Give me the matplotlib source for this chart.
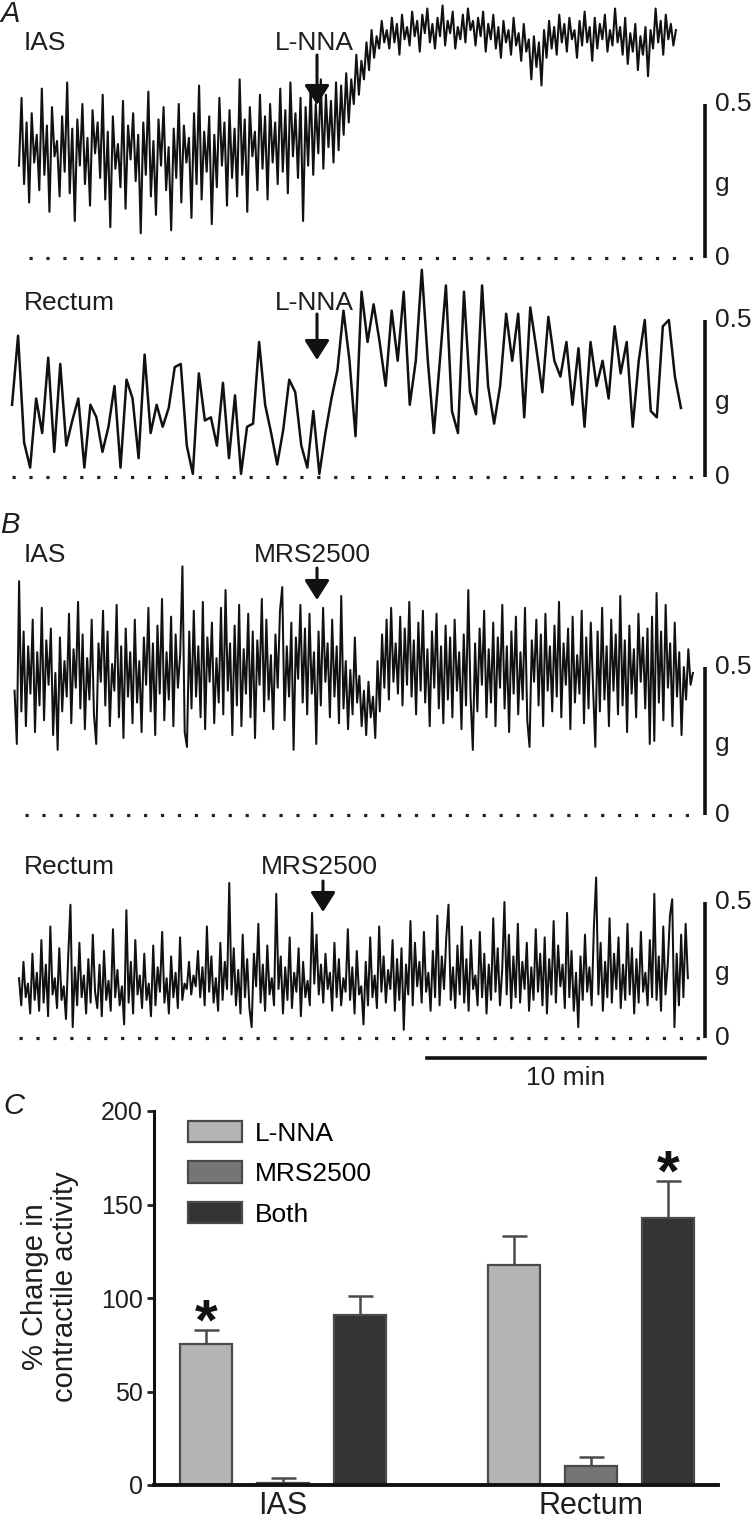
import numpy as np
import matplotlib
matplotlib.use("Agg")
import matplotlib.pyplot as plt

plt.rcParams["font.family"] = ["Liberation Sans", "DejaVu Sans"]

# ---------------------------------------------------------------------------
# Data
# ---------------------------------------------------------------------------
# Tension traces (g), evenly sampled between start/end (min)
ias_lnna = [
    # before L-NNA
    0.30, 0.52, 0.24, 0.44, 0.18, 0.47, 0.31, 0.40, 0.22, 0.55,
    0.27, 0.43, 0.15, 0.49, 0.33, 0.38, 0.20, 0.46, 0.28, 0.57,
    0.21, 0.42, 0.12, 0.45, 0.30, 0.50, 0.24, 0.39, 0.17, 0.48,
    0.34, 0.44, 0.26, 0.53, 0.19, 0.41, 0.10, 0.46, 0.29, 0.37,
    0.23, 0.51, 0.16, 0.43, 0.32, 0.47, 0.25, 0.40, 0.08, 0.44,
    0.27, 0.54, 0.20, 0.38, 0.14, 0.45, 0.30, 0.49, 0.22, 0.36,
    0.09, 0.42, 0.26, 0.50, 0.18, 0.43, 0.31, 0.39, 0.13, 0.47,
    0.24, 0.56, 0.19, 0.41, 0.28, 0.46, 0.11, 0.40, 0.23, 0.52,
    0.30, 0.44, 0.17, 0.48, 0.26, 0.42, 0.20, 0.58, 0.27, 0.45,
    0.15, 0.49, 0.33, 0.41, 0.22, 0.53, 0.29, 0.46, 0.19, 0.50,
    0.31, 0.44, 0.24, 0.55, 0.28, 0.48, 0.21, 0.57, 0.33, 0.47,
    0.26, 0.52, 0.12, 0.49, 0.30, 0.56, 0.27, 0.50, 0.34, 0.58,
    0.29, 0.53, 0.36, 0.51, 0.31, 0.57,
    # rise
    0.35, 0.56, 0.40, 0.60, 0.44, 0.58, 0.50, 0.66, 0.53, 0.64,
    0.58, 0.70, 0.61, 0.74, 0.65, 0.72, 0.68, 0.77, 0.70,
    # plateau
    0.74, 0.68, 0.78, 0.70, 0.76, 0.66, 0.79, 0.71, 0.75, 0.69,
    0.80, 0.72, 0.77, 0.67, 0.79, 0.73, 0.81, 0.70, 0.76, 0.68,
    0.78, 0.72, 0.82, 0.69, 0.77, 0.73, 0.80, 0.68, 0.75, 0.71,
    0.79, 0.70, 0.81, 0.74, 0.77, 0.69, 0.78, 0.72, 0.80, 0.67,
    0.76, 0.71, 0.79, 0.68, 0.75, 0.65, 0.77, 0.70, 0.74, 0.66,
    0.78, 0.69, 0.73, 0.64, 0.76, 0.67, 0.71, 0.58, 0.72, 0.62,
    0.70, 0.56, 0.74, 0.65, 0.77, 0.68, 0.75, 0.66, 0.79, 0.70,
    0.76, 0.67, 0.78, 0.71, 0.74, 0.65, 0.77, 0.69, 0.80, 0.70,
    0.75, 0.64, 0.78, 0.68, 0.76, 0.71, 0.79, 0.67, 0.74, 0.69,
    0.81, 0.70, 0.75, 0.66, 0.78, 0.63, 0.73, 0.67, 0.76, 0.61,
    0.72, 0.66, 0.75, 0.59, 0.74, 0.68, 0.81, 0.70, 0.77, 0.66,
    0.79, 0.71, 0.76, 0.69, 0.74,
]
rectum_lnna = [
    0.23, 0.45, 0.11, 0.03, 0.25, 0.14, 0.38, 0.08, 0.36, 0.10,
    0.18, 0.25, 0.03, 0.23, 0.19, 0.08, 0.16, 0.29, 0.03, 0.31,
    0.25, 0.06, 0.39, 0.14, 0.23, 0.16, 0.22, 0.35, 0.36, 0.10,
    0.01, 0.33, 0.18, 0.19, 0.10, 0.30, 0.06, 0.26, 0.01, 0.16,
    0.17, 0.43, 0.23, 0.14, 0.04, 0.15, 0.31, 0.27, 0.10, 0.03,
    0.21, 0.01, 0.14, 0.25, 0.34,
    0.53, 0.37, 0.13, 0.59, 0.43, 0.55, 0.43, 0.29, 0.53, 0.37,
    0.59, 0.23, 0.37, 0.66, 0.37, 0.14, 0.37, 0.61, 0.21, 0.14,
    0.59, 0.27, 0.20, 0.61, 0.29, 0.17, 0.29, 0.52, 0.37, 0.52,
    0.19, 0.54, 0.41, 0.27, 0.51, 0.37, 0.32, 0.43, 0.23, 0.41,
    0.16, 0.43, 0.29, 0.37, 0.25, 0.48, 0.33, 0.43, 0.16, 0.37,
    0.50, 0.21, 0.19, 0.48, 0.50, 0.32, 0.22,
]
ias_mrs = [
    0.42, 0.24, 0.79, 0.35, 0.62, 0.30, 0.57, 0.41, 0.66, 0.28,
    0.55, 0.37, 0.70, 0.32, 0.59, 0.44, 0.63, 0.27, 0.48, 0.22,
    0.60, 0.35, 0.52, 0.40, 0.68, 0.31, 0.56, 0.43, 0.72, 0.36,
    0.61, 0.29, 0.53, 0.39, 0.66, 0.34, 0.24, 0.58, 0.45, 0.69,
    0.37, 0.62, 0.30, 0.51, 0.42, 0.71, 0.33, 0.57, 0.26, 0.63,
    0.40, 0.55, 0.31, 0.66, 0.38, 0.52, 0.28, 0.60, 0.44, 0.70,
    0.35, 0.58, 0.27, 0.64, 0.41, 0.73, 0.32, 0.55, 0.39, 0.67,
    0.30, 0.61, 0.43, 0.54, 0.84, 0.28, 0.23, 0.62, 0.36, 0.69,
    0.40, 0.57, 0.33, 0.72, 0.29, 0.60, 0.45, 0.65, 0.31, 0.53,
    0.38, 0.70, 0.34, 0.76, 0.42, 0.58, 0.27, 0.64, 0.37, 0.71,
    0.30, 0.56, 0.41, 0.68, 0.33, 0.62, 0.26, 0.59, 0.44, 0.73,
    0.35, 0.66, 0.39, 0.54, 0.29, 0.61, 0.43, 0.69, 0.77, 0.32,
    0.57, 0.40, 0.65, 0.22, 0.60, 0.46, 0.71, 0.38, 0.63, 0.34,
    0.68, 0.41, 0.55, 0.24, 0.62, 0.37, 0.70, 0.45, 0.58, 0.33,
    0.66, 0.40, 0.57, 0.31, 0.74, 0.36, 0.52, 0.29, 0.49, 0.34,
    0.60, 0.38, 0.47, 0.30, 0.42, 0.27, 0.45, 0.33, 0.40, 0.26,
    0.52, 0.35, 0.61, 0.43, 0.66, 0.39, 0.70, 0.45, 0.58, 0.41,
    0.67, 0.37, 0.63, 0.44, 0.72, 0.40, 0.59, 0.34, 0.65, 0.42,
    0.69, 0.38, 0.56, 0.30, 0.62, 0.43, 0.68, 0.36, 0.57, 0.31,
    0.64, 0.39, 0.60, 0.33, 0.66, 0.42, 0.55, 0.29, 0.61, 0.37,
    0.76, 0.40, 0.22, 0.58, 0.35, 0.63, 0.44, 0.69, 0.33, 0.56,
    0.38, 0.65, 0.30, 0.60, 0.43, 0.71, 0.36, 0.57, 0.28, 0.62,
    0.41, 0.67, 0.34, 0.55, 0.39, 0.70, 0.32, 0.23, 0.59, 0.45,
    0.66, 0.37, 0.61, 0.30, 0.68, 0.42, 0.57, 0.35, 0.64, 0.40,
    0.72, 0.33, 0.58, 0.44, 0.63, 0.29, 0.67, 0.38, 0.54, 0.41,
    0.69, 0.31, 0.60, 0.36, 0.65, 0.43, 0.23, 0.62, 0.35, 0.70,
    0.39, 0.57, 0.30, 0.66, 0.42, 0.61, 0.34, 0.74, 0.37, 0.59,
    0.28, 0.64, 0.41, 0.56, 0.33, 0.68, 0.45, 0.60, 0.36, 0.63,
    0.24, 0.67, 0.25, 0.75, 0.38, 0.62, 0.32, 0.71, 0.43, 0.58,
    0.30, 0.65, 0.40, 0.55, 0.27, 0.50, 0.39, 0.56, 0.44, 0.48,
]
rectum_mrs = [
    0.22, 0.12, 0.28, 0.15, 0.20, 0.09, 0.31, 0.14, 0.24, 0.10,
    0.36, 0.13, 0.27, 0.08, 0.41, 0.16, 0.22, 0.11, 0.33, 0.14,
    0.19, 0.07, 0.30, 0.49, 0.04, 0.26, 0.12, 0.35, 0.15, 0.23,
    0.09, 0.29, 0.13, 0.38, 0.17, 0.11, 0.27, 0.08, 0.32, 0.14,
    0.21, 0.10, 0.40, 0.15, 0.25, 0.12, 0.19, 0.05, 0.47, 0.13,
    0.28, 0.09, 0.36, 0.16, 0.23, 0.11, 0.31, 0.14, 0.20, 0.08,
    0.34, 0.12, 0.26, 0.17, 0.39, 0.13, 0.22, 0.09, 0.30, 0.15,
    0.24, 0.11, 0.37, 0.14, 0.20, 0.18, 0.28, 0.16, 0.23, 0.19,
    0.32, 0.15, 0.26, 0.12, 0.41, 0.17, 0.30, 0.13, 0.22, 0.10,
    0.35, 0.14, 0.28, 0.18, 0.57, 0.16, 0.33, 0.12, 0.25, 0.09,
    0.38, 0.15, 0.29, 0.11, 0.04, 0.31, 0.19, 0.42, 0.13, 0.27,
    0.10, 0.34, 0.16, 0.22, 0.12, 0.53, 0.18, 0.30, 0.09, 0.26,
    0.14, 0.37, 0.11, 0.24, 0.17, 0.33, 0.08, 0.28, 0.15, 0.21,
    0.12, 0.46, 0.20, 0.38, 0.16, 0.27, 0.13, 0.31, 0.18, 0.24,
    0.10, 0.35, 0.15, 0.29, 0.12, 0.22, 0.17, 0.40, 0.14, 0.26,
    0.09, 0.32, 0.16, 0.19, 0.05, 0.28, 0.12, 0.37, 0.15, 0.23,
    0.11, 0.41, 0.17, 0.30, 0.13, 0.25, 0.18, 0.36, 0.10, 0.29,
    0.14, 0.33, 0.03, 0.27, 0.16, 0.43, 0.12, 0.35, 0.19, 0.28,
    0.13, 0.39, 0.17, 0.24, 0.10, 0.32, 0.15, 0.45, 0.12, 0.30,
    0.18, 0.37, 0.49, 0.14, 0.26, 0.11, 0.34, 0.16, 0.41, 0.13,
    0.29, 0.10, 0.36, 0.18, 0.23, 0.12, 0.39, 0.15, 0.31, 0.09,
    0.27, 0.14, 0.44, 0.17, 0.33, 0.12, 0.25, 0.50, 0.16, 0.38,
    0.11, 0.30, 0.15, 0.42, 0.13, 0.28, 0.18, 0.35, 0.10, 0.26,
    0.14, 0.40, 0.17, 0.31, 0.12, 0.37, 0.09, 0.29, 0.16, 0.43,
    0.13, 0.34, 0.19, 0.27, 0.11, 0.46, 0.15, 0.32, 0.10, 0.24,
    0.04, 0.30, 0.14, 0.38, 0.17, 0.26, 0.12, 0.41, 0.59, 0.16,
    0.35, 0.10, 0.28, 0.15, 0.44, 0.13, 0.31, 0.18, 0.37, 0.11,
    0.27, 0.14, 0.42, 0.16, 0.33, 0.09, 0.29, 0.13, 0.39, 0.17,
    0.24, 0.12, 0.36, 0.15, 0.53, 0.14, 0.30, 0.10, 0.41, 0.16,
    0.27, 0.45, 0.51, 0.04, 0.31, 0.12, 0.38, 0.15, 0.42, 0.22,
]
# recording windows (min from left edge of traces)
ias_lnna_span = (0.0, 23.63)
rectum_lnna_span = (-0.25, 23.81)
ias_mrs_span = (-0.16, 24.24)
rectum_mrs_span = (0.0, 24.06)

# Panel C: % change in contractile activity (mean, SEM)
treatments = ["L-NNA", "MRS2500", "Both"]
regions = ["IAS", "Rectum"]
ias_mean = [75.2, 1.2, 90.7]
ias_sem = [7.5, 2.3, 10.6]
rectum_mean = [117.9, 10.1, 142.8]
rectum_sem = [15.1, 5.0, 19.5]
ias_signif = [True, False, False]
rectum_signif = [False, False, True]

# ---------------------------------------------------------------------------
# Layout
# ---------------------------------------------------------------------------
W, H = 754, 1522
fig = plt.figure(figsize=(W / 100, H / 100), dpi=100)

PX_PER_MIN = 27.8
T0_PX = 19
TRACE_COLOR = "#111111"
BAR_X = (705 - T0_PX) / PX_PER_MIN
LABEL_X = (715 - T0_PX) / PX_PER_MIN
FS = 19
TXT = "#1e1e1e"


def fx(x):
    return x / W


def fy(y):
    return 1 - y / H


def trace_panel(top, bottom, zero, ppg, vals, span, base_start, lw):
    ax = fig.add_axes([0, 1 - bottom / H, 1, (bottom - top) / H])
    ax.set_xlim(-T0_PX / PX_PER_MIN, (W - T0_PX) / PX_PER_MIN)
    ax.set_ylim((zero - bottom) / ppg, (zero - top) / ppg)
    ax.axis("off")
    t = np.linspace(span[0], span[1], len(vals))
    ax.plot(t, vals, color=TRACE_COLOR, lw=lw)
    # zero baseline (dotted) and 0.5 g scale bar
    ax.hlines(0, base_start, 24.5, colors="#222222", lw=2.3,
              linestyles=[(0, (1, 4.3))])
    ax.plot([BAR_X, BAR_X], [0, 0.5], color="#111111", lw=2.6,
            solid_capstyle="butt", clip_on=False)
    ax.text(LABEL_X, 0.5, "0.5", fontsize=FS, va="center", ha="left", color=TXT)
    ax.text(LABEL_X, 0.24, "g", fontsize=FS, va="center", ha="left", color=TXT)
    ax.text(LABEL_X, 0.0, "0", fontsize=FS, va="center", ha="left", color=TXT)
    return ax


def label(x, y, s, **kw):
    fig.text(fx(x), fy(y), s, fontsize=kw.pop("fontsize", FS), va="center",
             color=TXT, **kw)


def arrow(x, y_top, y_tip):
    fig.add_artist(matplotlib.patches.FancyArrowPatch(
        (fx(x), fy(y_top)), (fx(x), fy(y_tip)), transform=fig.transFigure,
        arrowstyle="-|>,head_length=0.6,head_width=0.38", mutation_scale=20,
        lw=2.2, color="#111111", shrinkA=0, shrinkB=0))


# ---------------------------------------------------------------------------
# Panel A
# ---------------------------------------------------------------------------
trace_panel(0, 268, 258, 308, ias_lnna, ias_lnna_span, 0.36, 1.5)
trace_panel(268, 495, 477, 314, rectum_lnna, rectum_lnna_span, -0.25, 1.8)
label(0, 14, "A", fontsize=21, style="italic", ha="left")
label(24, 43, "IAS", ha="left")
label(314, 43, "L-NNA", ha="center")
arrow(317, 55, 105)
label(24, 303, "Rectum", ha="left")
label(314, 303, "L-NNA", ha="center")
arrow(317, 314, 360)

# ---------------------------------------------------------------------------
# Panel B
# ---------------------------------------------------------------------------
trace_panel(500, 830, 815, 296, ias_mrs, ias_mrs_span, 0.2, 1.45)
trace_panel(830, 1048, 1038, 272, rectum_mrs, rectum_mrs_span, 0.0, 1.45)
label(0, 525, "B", fontsize=21, style="italic", ha="left")
label(24, 555, "IAS", ha="left")
label(312, 555, "MRS2500", ha="center")
arrow(317, 568, 600)
label(24, 867, "Rectum", ha="left")
label(319, 867, "MRS2500", ha="center")
arrow(323, 881, 912)

# 10 min time bar
fig.add_artist(plt.Line2D([fx(427), fx(705)], [fy(1058), fy(1058)],
                          transform=fig.transFigure, color="#111111", lw=2.6))
label(566, 1078, "10 min", ha="center")

# ---------------------------------------------------------------------------
# Panel C
# ---------------------------------------------------------------------------
axc = fig.add_axes([fx(154), fy(1485), (718 - 154) / W, (1485 - 1111) / H])
colors = ["#b4b4b4", "#757575", "#343434"]
bar_w = 0.675
group_x = [np.arange(3), np.arange(3) + 4]
for xs, means, sems, sig in [(group_x[0], ias_mean, ias_sem, ias_signif),
                             (group_x[1], rectum_mean, rectum_sem, rectum_signif)]:
    for i in range(3):
        axc.bar(xs[i], means[i], width=bar_w, color=colors[i],
                edgecolor="#4a4a4a", lw=1.6, zorder=2,
                label=treatments[i] if xs is group_x[0] else None)
        axc.errorbar(xs[i], means[i], yerr=[[0], [sems[i]]], fmt="none",
                     ecolor="#4a4a4a", elinewidth=1.8, capsize=9,
                     capthick=1.8, zorder=1)
        if sig[i]:
            axc.text(xs[i], means[i] + sems[i] - 5, "*", ha="center",
                     va="baseline", fontsize=42, fontweight="bold",
                     color="#111111")

axc.set_xlim(-0.675, 6.65)
axc.set_ylim(0, 200)
axc.set_yticks([0, 50, 100, 150, 200])
axc.set_xticks([1, 5])
axc.set_xticklabels(regions)
axc.tick_params(axis="y", direction="out", length=5, width=2, labelsize=18,
                pad=3, colors="#222222", labelcolor=TXT)
axc.tick_params(axis="x", length=0, labelsize=22, pad=4, labelcolor=TXT)
for s in ["top", "right"]:
    axc.spines[s].set_visible(False)
axc.spines["left"].set_linewidth(2.2)
axc.spines["bottom"].set_linewidth(2.8)
axc.spines["left"].set_color("#111111")
axc.spines["bottom"].set_color("#111111")

fig.text(fx(50), fy(1287), "% Change in\ncontractile activity", rotation=90,
         ha="center", va="center", fontsize=21, linespacing=1.1,
         color=TXT, multialignment="center")
label(3, 1106, "C", fontsize=21, style="italic", ha="left")

axc.legend(loc="upper left", bbox_to_anchor=(fx(188), fy(1121)),
           bbox_transform=fig.transFigure, frameon=False, fontsize=19,
           handlelength=2.05, handleheight=0.85, handletextpad=0.5,
           labelspacing=0.6, borderpad=0, borderaxespad=0)

fig.savefig("out.png", dpi=100)
